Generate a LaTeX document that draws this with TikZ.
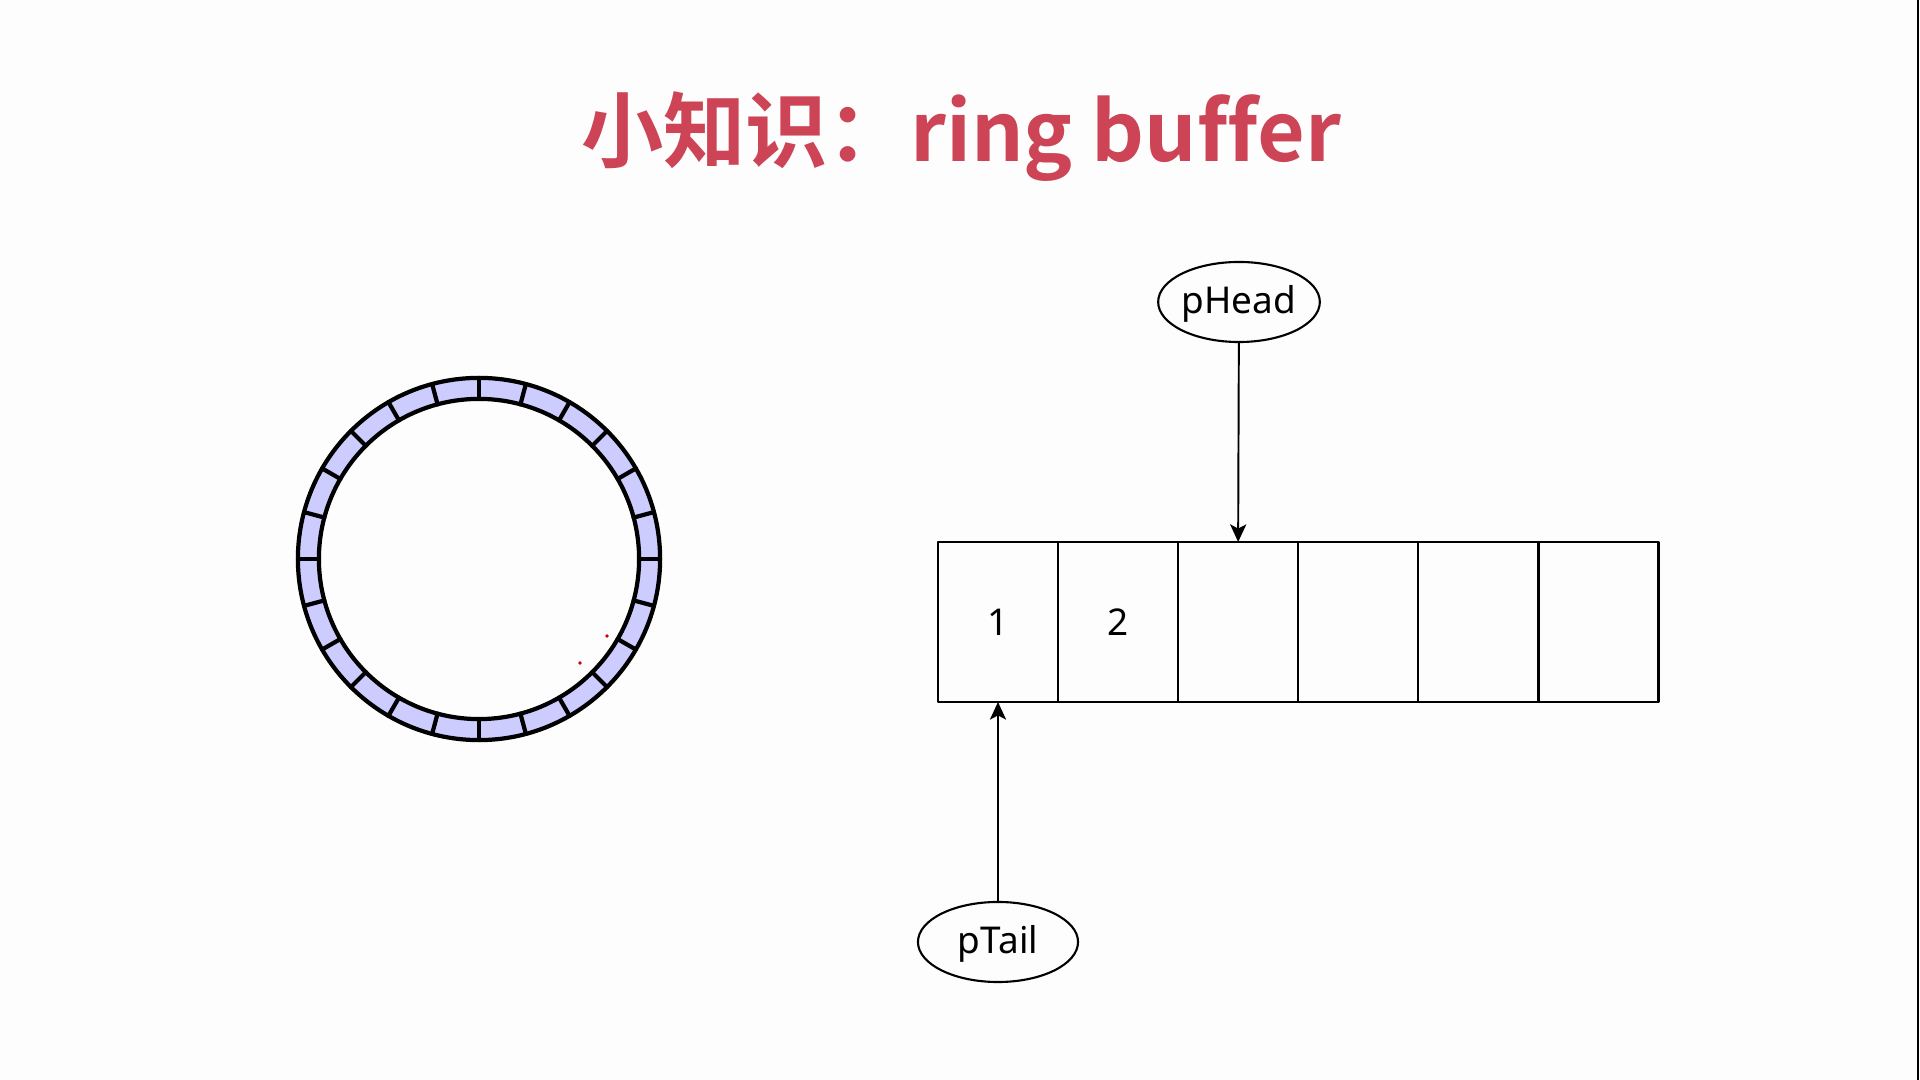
\documentclass[tikz,border=0pt]{standalone}
\usepackage{fontspec}
\setmainfont{Noto Sans}
\newfontfamily\titlefont[Ligatures=NoCommon]{Noto Sans CJK SC Bold}
\usetikzlibrary{shapes.geometric,positioning,arrows.meta}
\definecolor{titlered}{RGB}{204,68,85}
\definecolor{ringfill}{RGB}{204,204,255}
\definecolor{pagebg}{RGB}{253,253,253}
\tikzset{
  cell/.style={draw,line width=0.7pt,minimum width=1.2cm,minimum height=1.6cm,inner sep=0pt,outer sep=0pt,font=\fontsize{10.5}{12}\selectfont},
  pointer/.style={draw,ellipse,line width=0.6pt,minimum width=1.6cm,minimum height=0.8cm,inner sep=0pt,text height=8.5pt,text depth=1.7pt,font=\fontsize{10.5}{12}\selectfont}
}
\begin{document}
\begin{tikzpicture}[line cap=round,line join=round,>={Stealth[length=5pt,width=4.6pt,inset=1.2pt]},x=0.01cm,y=-0.01cm]
\fill[pagebg] (0,0) rectangle (1920,1080);
\useasboundingbox (0,0) rectangle (1920,1080);
\draw[line width=0.57pt,line cap=butt] (1918.3,0)--(1918.3,1080);
\node[text=titlered,font=\titlefont\fontsize{23.4}{28}\selectfont] (title) at (961,137) {小知识：ring buffer};
% ring
\coordinate (ring) at (479,559);
\fill[ringfill,even odd rule] (ring) circle[radius=1.81cm] (ring) circle[radius=1.60cm];
\draw[line width=1.2pt] (ring) circle[radius=1.81cm] (ring) circle[radius=1.60cm];
\foreach \a in {0,15,...,345}
{
\draw[line width=1.2pt] ([shift={(\a:1.60cm)}]ring)--([shift={(\a:1.81cm)}]ring);
}
\fill[red!80!black] (607,636) circle[radius=0.018cm];
\fill[red!80!black] (580,663) circle[radius=0.018cm];
% array
\node[cell] (c1) at (998,622) {1};
\node[cell,right=0pt of c1] (c2) {2};
\foreach \i [evaluate=\i as \j using int(\i-1)] in {3,...,6}
{
\node[cell,right=0pt of c\j] (c\i) {};
}
\node[pointer] (phead) at (1239,302) {pHead};
\node[pointer] (ptail) at (998,942) {pTail};
\draw[->,line width=0.55pt] (phead)--(c3.north);
\draw[->,line width=0.55pt] (ptail)--(c1.south);
\end{tikzpicture}
\end{document}
